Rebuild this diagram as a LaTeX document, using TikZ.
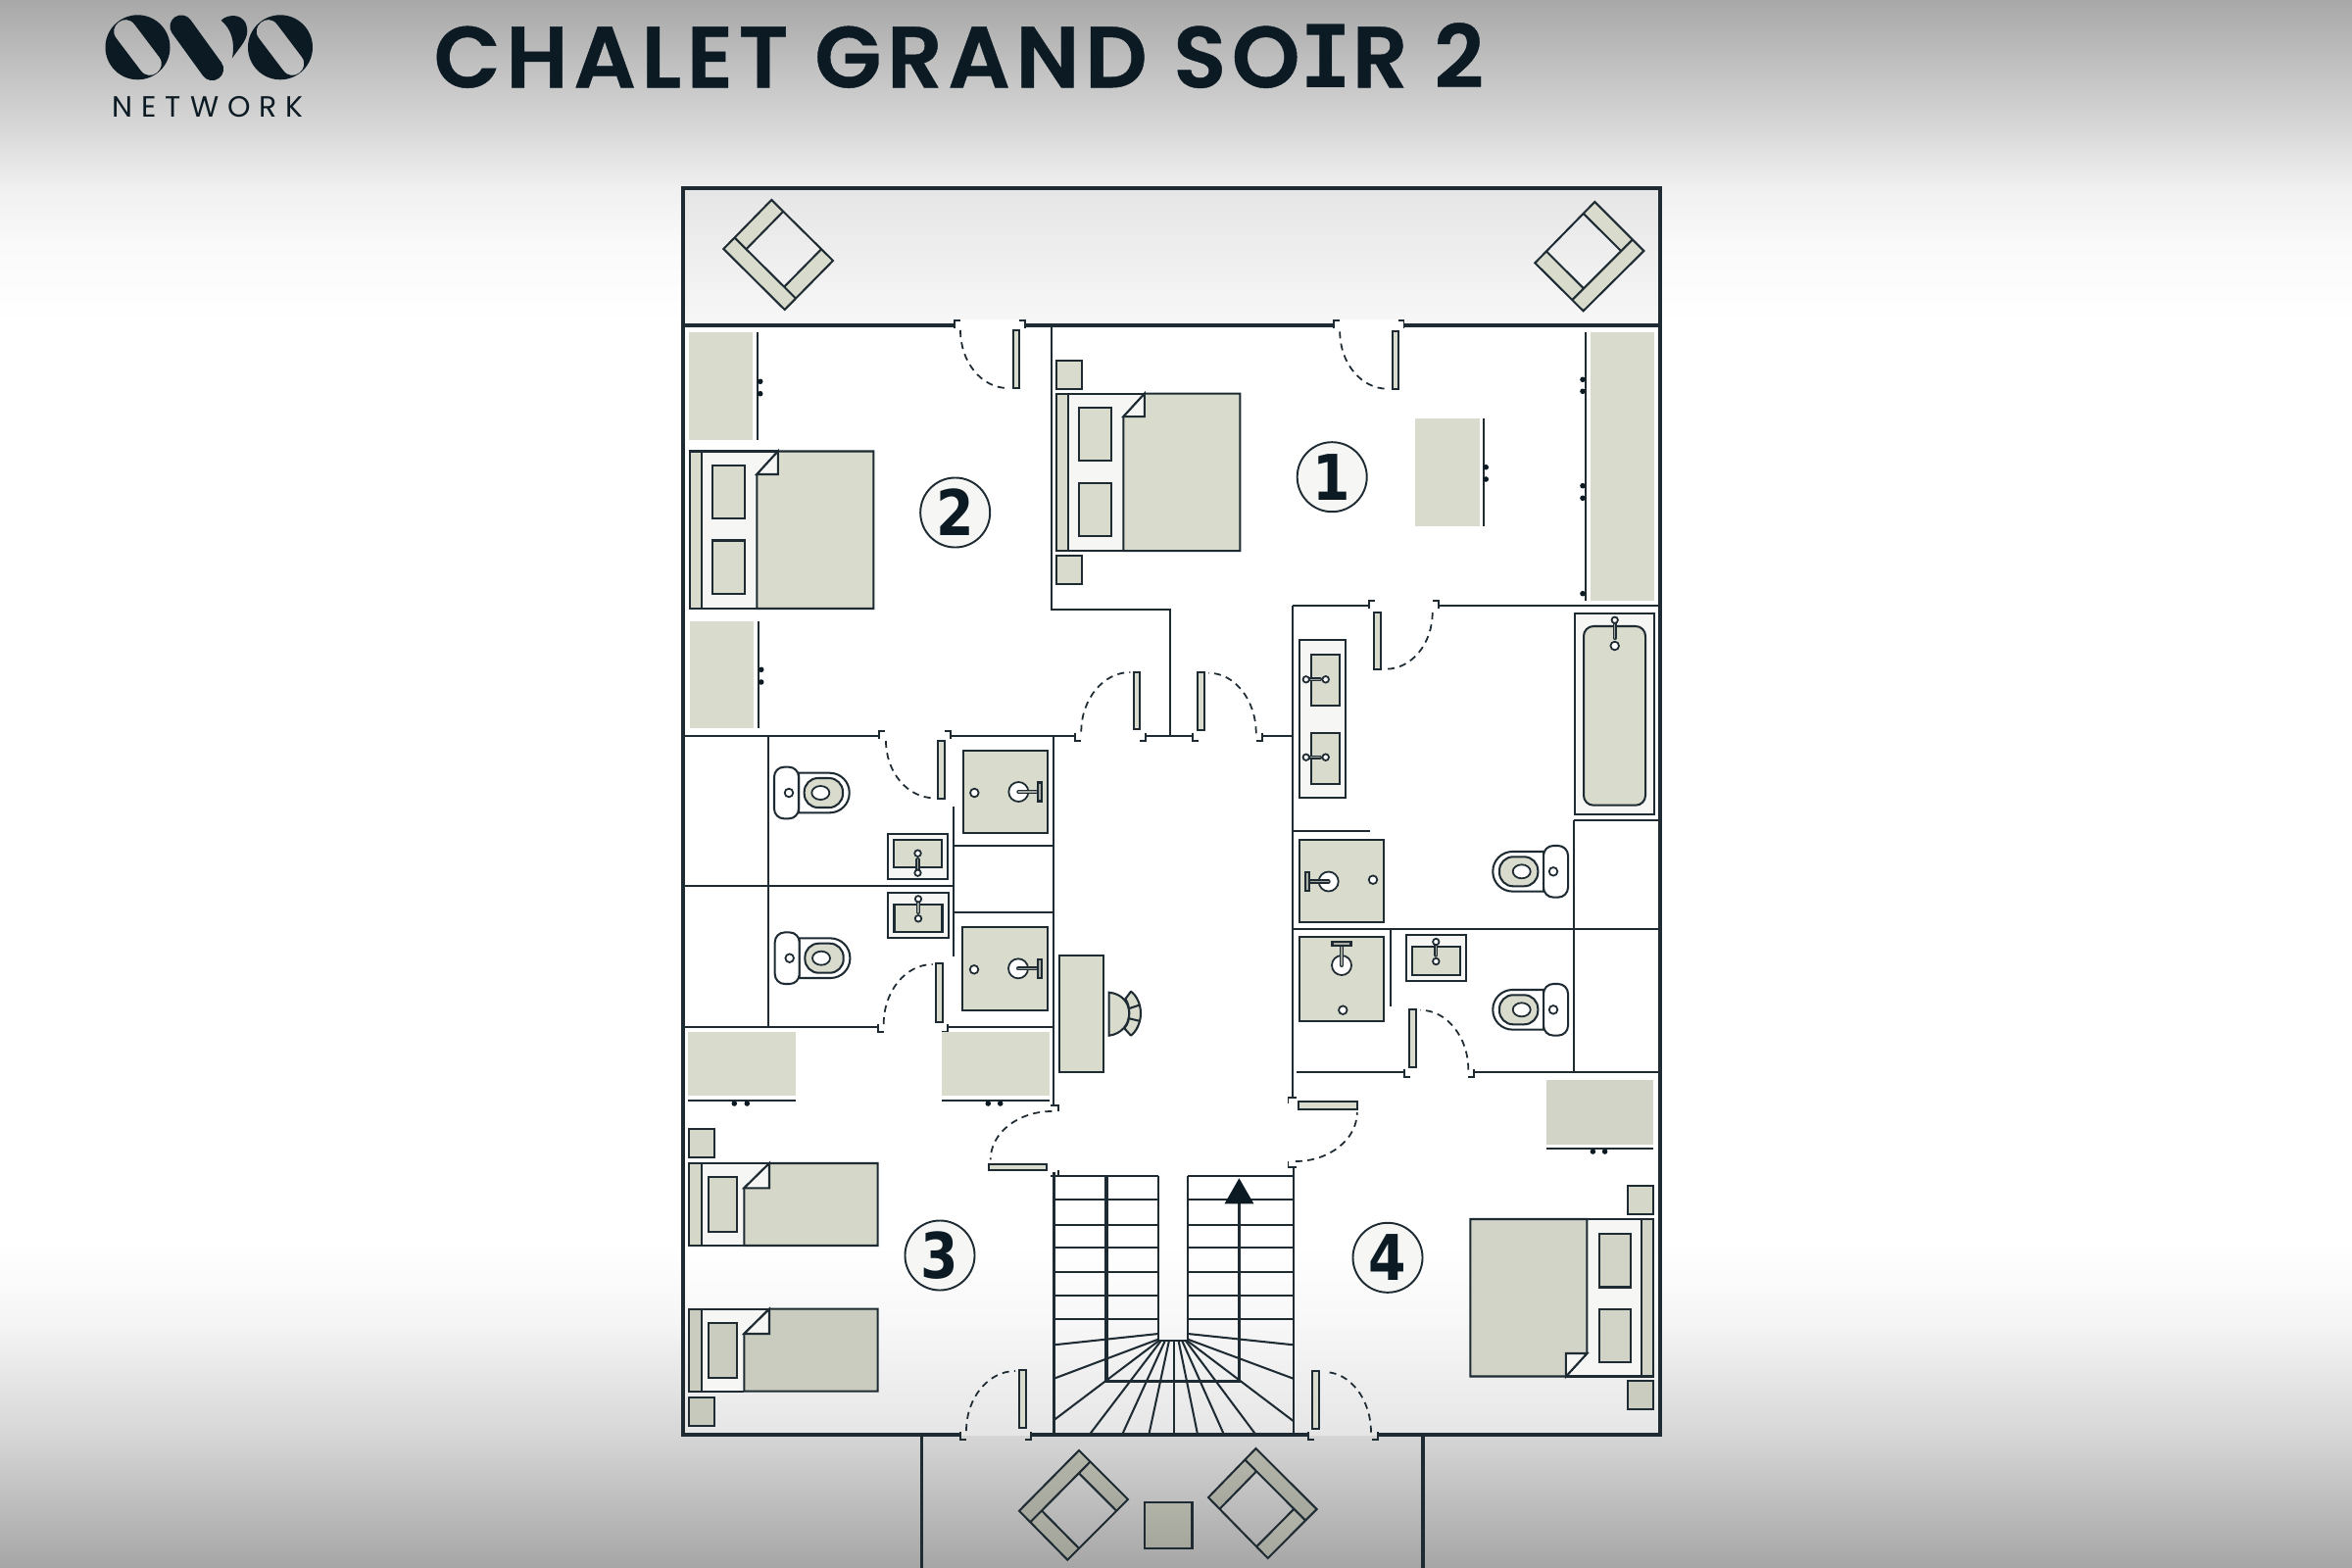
\documentclass[tikz,border=0pt]{standalone}
\usepackage{fontspec}
\usetikzlibrary{calc}
\newfontfamily\titlefont{Poppins SemiBold}[LetterSpace=6.3,FakeBold=.5]
\newfontfamily\titleI{DejaVu Sans Mono}
\newfontfamily\netfont{Poppins}[LetterSpace=30]
\newfontfamily\numfont{DejaVu Sans}[FakeStretch=.86]
\definecolor{ink}{HTML}{1E2B33}
\definecolor{deep}{HTML}{0C1A24}
\definecolor{furn}{HTML}{D9DBCD}
\definecolor{zonec}{HTML}{F6F7F5}
\tikzset{
  outerwall/.style={draw=ink,line width=1pt,line cap=butt,line join=miter},
  wall/.style={draw=ink,line width=.66pt,line cap=butt,line join=miter},
  thinl/.style={draw=ink,line width=.58pt},
  jambl/.style={draw=ink,line width=.55pt},
  swing/.style={draw=ink,line width=.5pt,dash pattern=on 2pt off 1.5pt},
  leaf/.style={draw=ink,fill=furn,line width=.5pt},
  part/.style={draw=ink,fill=furn,line width=.58pt},
  zone/.style={draw=ink,fill=zonec,line width=.58pt},
  hole/.style={draw=ink,fill=white,line width=.5pt},
  tread/.style={draw=ink,line width=.58pt},
  spine/.style={draw=ink,line width=.9pt},
  roomnum/.style={circle,draw=ink,fill=zonec,line width=.55pt,minimum size=.71cm,inner sep=0pt,text=deep,font=\numfont\bfseries\fontsize{18.3pt}{18.3pt}\selectfont},
}
\newcommand{\swingV}[4]{\pgfmathsetmacro\cya{#2+.55*(#4-#2)}\pgfmathsetmacro\cxb{#3-.55*(#3-#1)}\draw[swing] (#1,#2) .. controls (#1,\cya) and (\cxb,#4) .. (#3,#4);}
\newcommand{\swingH}[4]{\pgfmathsetmacro\cxa{#1+.55*(#3-#1)}\pgfmathsetmacro\cyb{#4-.55*(#4-#2)}\draw[swing] (#1,#2) .. controls (\cxa,#2) and (#3,\cyb) .. (#3,#4);}
\newcommand{\jambH}[4]{\draw[jambl] (#1,#2+#4*3) -- (#1,#2-#4*5) -- (#1+#3*6,#2-#4*5);}
\newcommand{\jambV}[4]{\draw[jambl] (#1+#4*3,#2) -- (#1-#4*5,#2) -- (#1-#4*5,#2+#3*6);}
\newcommand{\lounge}[6]{%
  \coordinate (P0) at (#2); \coordinate (P1) at (#3); \coordinate (P2) at (#4); \coordinate (P3) at (#5);
  \coordinate (A0) at ($(P0)!.23!(P3)$); \coordinate (A1) at ($(P1)!.23!(P2)$);
  \coordinate (B0) at ($(A0)!.19!(A1)$); \coordinate (B1) at ($(A1)!.19!(A0)$);
  \coordinate (C3) at ($(P3)!.19!(P2)$); \coordinate (C2) at ($(P2)!.19!(P3)$);
  \fill[#1] (P0) -- (P1) -- (A1) -- (A0) -- cycle;
  \fill[#6] (A0) -- (B0) -- (C3) -- (P3) -- cycle;
  \fill[#1] (A1) -- (B1) -- (C2) -- (P2) -- cycle;
  \draw[thinl,line join=miter] (P0) -- (P1) -- (P2) -- (P3) -- cycle (A0) -- (A1) (B0) -- (C3) (B1) -- (C2);}
\newcommand{\bedd}[2]{\begin{scope}[#1]
  \fill[zonec] (12,0) rectangle (89.5,160.5);
  \draw[thinl] (12,0) -- (89.5,0) (12,160.5) -- (68,160.5);
  \path[part,fill=#2] (0,0) rectangle (12,160.5);
  \path[part,fill=#2] (89.5,0) -- (187,0) -- (187,160.5) -- (68,160.5) -- (68,23.5) -- cycle;
  \path[zone] (89.5,0) -- (89.5,23.5) -- (68,23.5) -- cycle;
  \path[part,fill=#2] (23,14.5) rectangle (55.5,68.5);
  \path[part,fill=#2] (23,91) rectangle (55.5,145.5);
\end{scope}}
\newcommand{\bedsingle}[2]{\begin{scope}[#1]
  \fill[zonec] (12.7,0) rectangle (81.7,84);
  \draw[thinl] (12.7,0) -- (81.7,0) (12.7,84) -- (56,84);
  \path[part,fill=#2] (0,0) rectangle (12.7,84);
  \path[part,fill=#2] (81.7,0) -- (192.4,0) -- (192.4,84) -- (56,84) -- (56,25.3) -- cycle;
  \path[zone] (81.7,0) -- (81.7,25.3) -- (56,25.3) -- cycle;
  \path[part,fill=#2] (20,14.3) rectangle (49,70.3);
\end{scope}}
\newcommand{\wc}[1]{\begin{scope}[#1]
  \draw[thinl,fill=white] (10,-20.3) [rounded corners=.2cm] -- (61.7,-20.3) -- (61.7,20.3) [sharp corners] -- (10,20.3) -- cycle;
  \path[part,rounded corners=.14cm] (15.7,-15) rectangle (55,15);
  \draw[hole] (32.3,0) ellipse [x radius=9,y radius=7];
  \draw[thinl,fill=white,rounded corners=.1cm] (-15,-26.3) rectangle (10,26.3);
  \draw[hole] (0,0) circle [radius=4.3];
\end{scope}}
\newcommand{\tapbar}[4]{\draw[ink,line width=1.15pt,line cap=round] (#1,#2) -- (#3,#4); \draw[furn!70!ink,line width=.35pt,line cap=round] (#1,#2) -- (#3,#4);}
\newcommand{\basin}[1]{\begin{scope}[#1]
  \path[zone] (-30.8,-23.3) rectangle (30.8,23.3);
  \path[part] (-24.5,-17.3) rectangle (24.5,11.3);
  \draw[hole] (0,-3.3) circle [radius=3.3];
  \tapbar{0}{3}{0}{17}
  \draw[hole] (0,16.7) circle [radius=3.2];
\end{scope}}
\newcommand{\shower}[7]{%
  \path[part] (#1,#2) rectangle (#3,#4);
  \draw[hole] (#5,#6) circle [radius=4.3];
  \begin{scope}[#7]
    \draw[hole] (0,0) circle [radius=10];
    \tapbar{0}{0}{20.5}{0}
    \path[part,fill=furn!75!ink] (20,-9.5) rectangle (24,9.5);
  \end{scope}}
\begin{document}
\begin{tikzpicture}[x=.01cm,y=-.01cm]
\useasboundingbox (0,0) rectangle (2400,1600);
% background
\fill[top color=white!66!black,bottom color=white!86!black] (0,0) rectangle (2400,141);
\fill[top color=white!86!black,bottom color=white!94!black] (0,140) rectangle (2400,191);
\fill[top color=white!94!black,bottom color=white!98!black] (0,190) rectangle (2400,251);
\fill[top color=white!98!black,bottom color=white] (0,250) rectangle (2400,331);
\fill[white] (0,330) rectangle (2400,1271);
\fill[top color=white,bottom color=white!96!black] (0,1270) rectangle (2400,1351);
\fill[top color=white!96!black,bottom color=white!84!black] (0,1350) rectangle (2400,1465);
\fill[top color=white!84!black,bottom color=white!65!black] (0,1464) rectangle (2400,1600);
% balcony and rooms
\fill[top color=white!90!black,bottom color=white!97!black] (697,192) rectangle (1694,332);
\fill[top color=white,bottom color=white!97!black] (697,1270) rectangle (1694,1351);
\fill[top color=white!97!black,bottom color=white!90!black] (697,1350) rectangle (1694,1464);
\fill[white] (976,326) rectangle (1043,337);
\fill[white] (1364,326) rectangle (1430,337);
% logo
\fill[deep,even odd rule] (140.5,48.3) circle [radius=33]
  (137.3,24.9) -- (162.3,57.9) .. controls (171.7,70.3) and (153.1,84.5) .. (143.7,72.1) -- (118.7,39.1) .. controls (109.3,26.7) and (127.9,12.5) .. cycle;
\fill[deep,even odd rule] (286,48.3) circle [radius=33]
  (282.8,24.9) -- (307.8,57.9) .. controls (317.2,70.3) and (298.6,84.5) .. (289.2,72.1) -- (264.2,39.1) .. controls (254.8,26.7) and (273.4,12.5) .. cycle;
\draw[deep,line width=6.6pt,line cap=round] (185,27) -- (216.5,70.5);
\fill[deep] (225.7,20.7) .. controls (232,14) and (252,12) .. (252.3,32) .. controls (252,42) and (243,50) .. (237,59.3) .. controls (240,42) and (236,30) .. cycle;
\node[anchor=base west,inner sep=0pt,text=deep,font=\netfont\fontsize{8.5pt}{8.5pt}\selectfont] (net) at (114,120) {NETWORK};
\node[anchor=base west,inner sep=0pt,text=deep,font=\titlefont\fontsize{25.2pt}{25.2pt}\selectfont] (title) at (442,89.3) {CHALET GRAND SO{\titleI\bfseries I}R 2};
% walls
\draw[outerwall] (980,1464) -- (697,1464) -- (697,192) -- (1694,192) -- (1694,1464) -- (1405.6,1464);
\draw[outerwall] (1334.9,1464) -- (1051.7,1464);
\draw[outerwall] (697,332) -- (973.7,332) (1046,332) -- (1361,332) (1432.5,332) -- (1694,332);
\draw[outerwall] (940.7,1464) -- (940.7,1600) (1452,1464) -- (1452,1600);
\draw[wall] (1072.7,332) -- (1072.7,621.7) -- (1194,621.7) -- (1194,750.7);
\draw[wall] (697,750.7) -- (897.3,750.7) (970,750.7) -- (1096.7,750.7) (1169.3,750.7) -- (1216.7,750.7) (1288.3,750.7) -- (1319.3,750.7);
\draw[wall] (1075,750.7) -- (1075,1128);
\draw[wall] (697,904) -- (972.7,904);
\draw[wall] (784,750.7) -- (784,1048.3);
\draw[wall] (697,1048.3) -- (896,1048.3) (967.3,1048.3) -- (1075,1048.3);
\draw[wall] (972.7,822.7) -- (972.7,976);
\draw[wall] (972.7,862.7) -- (1075,862.7) (972.7,930.7) -- (1075,930.7);
\draw[wall] (1319.3,618.3) -- (1319.3,1120);
\draw[wall] (1319.3,618.3) -- (1396.7,618.3) (1468.3,618.3) -- (1694,618.3);
\draw[wall] (1606,837.3) -- (1606,1094.3);
\draw[wall] (1606,837.3) -- (1694,837.3);
\draw[wall] (1319.3,948.3) -- (1694,948.3);
\draw[wall] (1320,848.3) -- (1397.7,848.3);
\draw[wall] (1418.7,948.3) -- (1418.7,1027.3);
\draw[wall] (1322.7,1094.3) -- (1433.3,1094.3) (1504,1094.3) -- (1694,1094.3);
% door jambs
\jambH{973.7}{332}{1}{1}\jambH{1046}{332}{-1}{1}
\jambH{1361}{332}{1}{1}\jambH{1432.5}{332}{-1}{1}
\jambH{897.3}{750.7}{1}{1}\jambH{970}{750.7}{-1}{1}
\jambH{1096.7}{750.7}{1}{-1}\jambH{1169.3}{750.7}{-1}{-1}
\jambH{1216.7}{750.7}{1}{-1}\jambH{1288.3}{750.7}{-1}{-1}
\jambH{1396.7}{618.3}{1}{1}\jambH{1468.3}{618.3}{-1}{1}
\jambH{896}{1048.3}{1}{-1}\jambH{967.3}{1048.3}{-1}{-1}
\jambH{1433.3}{1094.3}{1}{-1}\jambH{1504}{1094.3}{-1}{-1}
\jambH{980}{1464}{1}{-1}\jambH{1051.7}{1464}{-1}{-1}
\jambH{1334.9}{1464}{1}{-1}\jambH{1405.6}{1464}{-1}{-1}
\jambV{1075}{1128}{1}{-1}\jambV{1075}{1200}{-1}{-1}
\jambV{1319.5}{1120}{1}{1}\jambV{1319.5}{1191}{-1}{1}
% doors
\path[leaf] (1034,337.3) rectangle (1040,396);      \swingV{980}{337}{1028.3}{396}
\path[leaf] (1420.7,338.3) rectangle (1427,397.3);  \swingV{1367.2}{338.3}{1415.6}{396.7}
\path[leaf] (1156.7,685.7) rectangle (1163.3,744.3);\swingV{1103.3}{746.7}{1153.3}{686}
\path[leaf] (1222,686) rectangle (1228.7,745);      \swingV{1281.7}{748.3}{1233.3}{686.7}
\path[leaf] (957.3,756) rectangle (964.3,815);      \swingV{904}{756}{953.3}{814.3}
\path[leaf] (955.3,983.3) rectangle (962.3,1042.7); \swingV{901.7}{1045}{951.7}{984}
\path[leaf] (1402,625) rectangle (1409,683.3);      \swingV{1461.7}{625}{1414.3}{682.7}
\path[leaf] (1438,1030) rectangle (1445,1089);      \swingV{1498.3}{1091.7}{1449.3}{1030.7}
\path[leaf] (1040,1398.3) rectangle (1046.7,1457.3);\swingV{986}{1460}{1036}{1399}
\path[leaf] (1339.2,1399.3) rectangle (1345.7,1458.3);\swingV{1399}{1461.7}{1351.4}{1400}
\path[leaf] (1009.3,1187.7) rectangle (1068.3,1194.3);\swingH{1073.3}{1134}{1010.7}{1183.3}
\path[leaf] (1325.3,1124.3) rectangle (1384.8,1131.7);\swingH{1321.9}{1185}{1384.8}{1135}
% stairs
\foreach \yy in {1200,1224.3,1249.7,1273.3,1298,1322,1346.3} {
  \draw[tread] (1075.5,\yy) -- (1181.7,\yy);
  \draw[tread] (1212.2,\yy) -- (1319.7,\yy);
}
\draw[tread] (1075.5,1196) -- (1075.5,1464);
\draw[tread] (1319.7,1191) -- (1319.7,1464);
\draw[tread] (1181.7,1200) -- (1181.7,1367.7) -- (1212.2,1367.7) -- (1212.2,1200);
\draw[tread] (1181.7,1361) -- (1075.5,1372.3);
\draw[tread] (1181.7,1366.7) -- (1075.5,1406.7);
\draw[tread] (1183,1367.7) -- (1075.5,1449);
\draw[tread] (1212.2,1361) -- (1319.7,1372.3);
\draw[tread] (1212.2,1366.7) -- (1319.7,1406.7);
\draw[tread] (1211,1367.7) -- (1319.7,1450);
\foreach \aa/\bb in {1185/1111.6,1189/1145,1193/1172.3,1197.9/1197.9,1202.5/1222.1,1206/1249,1209.5/1281.5} {
  \draw[tread] (\aa,1367.7) -- (\bb,1464);
}
\draw[spine,line join=miter] (1129,1200) -- (1129,1409.5) -- (1264.6,1409.5) -- (1264.6,1225);
\fill[deep] (1264.4,1202.3) -- (1279.4,1228.3) -- (1249.5,1228.3) -- cycle;
% wardrobes
\fill[furn] (703.3,339.3) rectangle (768.3,449.3);
\draw[thinl] (772.7,339.3) -- (772.7,449.3);
\fill[furn] (704,634) rectangle (769.3,743.3);
\draw[thinl] (774,634) -- (774,743.3);
\fill[furn] (1443.8,426.7) rectangle (1510.3,536.7);
\draw[thinl] (1513.7,426.7) -- (1513.7,536.7);
\fill[furn] (1623,339) rectangle (1688,612.7);
\draw[thinl] (1618,339) -- (1618,613);
\fill[furn] (702,1053.3) rectangle (811.7,1118.3);
\draw[thinl] (702,1123.3) -- (811.7,1123.3);
\fill[furn] (961,1053.3) rectangle (1070.7,1118.3);
\draw[thinl] (961,1123.3) -- (1070.7,1123.3);
\fill[furn!97!black] (1577.7,1102.3) rectangle (1687.4,1167.7);
\draw[thinl] (1577.7,1172) -- (1687.4,1172);
\foreach \hx/\hy in {775.7/389.3,775.7/401.7,776.7/683.3,776.7/696,1516.2/476.7,1516.2/489,
  1615/387.3,1615/399.3,1615/495.7,1615/508.3,1615/605.7,
  749.3/1126,762.3/1126,1008.3/1126,1020.7/1126,1625.4/1175,1637.6/1175}
  \fill[deep] (\hx,\hy) circle [radius=2.8];
% beds
\bedd{shift={(704.3,460.5)}}{furn}
\bedd{shift={(1078.3,401.7)}}{furn}
\bedd{shift={(1687.4,1404.5)},rotate=180}{furn!97!black}
\bedsingle{shift={(703.3,1187)}}{furn!98!black}
\bedsingle{shift={(703.3,1335.7)}}{furn!93!black}
\path[part] (1078,368.3) rectangle (1104.3,397.3);
\path[part] (1078,567) rectangle (1104.3,596);
\path[part,fill=furn!98!black] (1661,1210) rectangle (1687.4,1239);
\path[part,fill=furn!93!black] (1661,1409) rectangle (1687.4,1438);
\path[part,fill=furn!98!black] (703.3,1152) rectangle (729,1180.7);
\path[part,fill=furn!92!black] (703.3,1426) rectangle (729,1454.7);
% toilets
\wc{shift={(805,809)}}
\wc{shift={(805.7,977.7)}}
\wc{shift={(1585,889.3)},xscale=-1}
\wc{shift={(1585,1030.3)},xscale=-1}
% basins
\basin{shift={(936.5,874)}}
\basin{shift={(937,934)},yscale=-1}
\basin{shift={(1465.3,977.7)},yscale=-1}
% vanity
\path[zone] (1325.7,653.3) rectangle (1372.7,814.3);
\foreach \vy/\vc in {668.3/693.3,748/772.7} {
  \path[part] (1338,\vy) rectangle (1366.7,\vy+52);
  \draw[hole] (1352.7,\vc) circle [radius=3.3];
  \tapbar{1333}{\vc}{1347}{\vc}
  \draw[hole] (1332.7,\vc) circle [radius=3.2];
}
% bath
\path[zone] (1607.3,626) rectangle (1687.7,830.7);
\path[part,rounded corners=.1cm] (1616,639) rectangle (1679,821.7);
\draw[hole] (1647.7,659) circle [radius=4.3];
\tapbar{1647.7}{634}{1647.7}{651}
\draw[hole] (1647.7,632.7) circle [radius=3.2];
% showers
\shower{982.7}{765.7}{1069}{850}{994.3}{809}{shift={(1039.3,808)}}
\shower{982.3}{946}{1069}{1031}{994}{989.3}{shift={(1039,988.3)}}
\shower{1326.3}{856.7}{1412.3}{941.3}{1401}{897.7}{shift={(1355.7,899.5)},rotate=180}
\shower{1326.3}{956}{1412.3}{1042.3}{1370.3}{1030.7}{shift={(1369,985)},rotate=90}
% desk and seat
\path[part] (1081,975) rectangle (1125.7,1094);
\path[part] (1131.7,1012.7) .. controls (1144,1014) and (1152,1022) .. (1152.3,1034) .. controls (1152,1046) and (1144,1055) .. (1131.7,1056.7) -- cycle;
\path[part,line join=round] (1148.3,1019.3) -- (1154,1011.7) .. controls (1160,1016) and (1164,1025) .. (1164,1034) .. controls (1164,1043) and (1160,1052) .. (1154,1056.7) -- (1147.3,1049.3) .. controls (1151,1045) and (1152.3,1040) .. (1152.3,1034) .. controls (1152.3,1028) and (1151,1023) .. cycle;
\draw[thinl] (1152.3,1029) -- (1162.3,1025.7) (1152.3,1039.3) -- (1162.3,1041.7);
% chairs
\lounge{furn}{738.3,254}{800.7,316}{850,266}{787.3,204}{furn}
\lounge{furn}{1677.4,256}{1615.6,317.3}{1566.3,268.3}{1627.3,206}{furn}
\lounge{top color=furn!83!black,bottom color=furn!76!black}{1040,1541.7}{1101,1480}{1151,1530}{1089.3,1591.7}{top color=furn!80!black,bottom color=furn!74!black}
\lounge{top color=furn!83!black,bottom color=furn!76!black}{1343.6,1540}{1281.5,1478}{1233,1528}{1293.7,1590}{top color=furn!83!black,bottom color=furn!76!black}
\path[thinl,top color=furn!82!black,bottom color=furn!76!black] (1168,1532.7) rectangle (1216.5,1580.3);
% room numbers
\node[roomnum] (r1) at (1359.2,486.7) {1};
\node[roomnum] (r2) at (974.7,523) {2};
\node[roomnum] (r3) at (959,1281) {3};
\node[roomnum] (r4) at (1416,1283.3) {4};
\end{tikzpicture}
\end{document}
